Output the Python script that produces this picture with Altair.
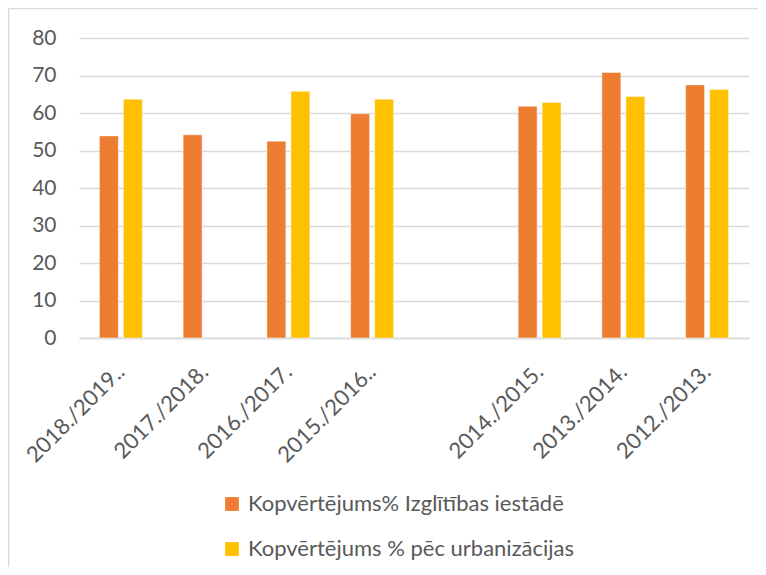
import altair as alt
import pandas as pd

categories = ["2018./2019..", "2017./2018.", "2016./2017.", "2015./2016..", " ",
              "2014./2015.", "2013./2014.", "2012./2013."]
series_names = ["Kopvērtējums% Izglītības iestādē", "Kopvērtējums % pēc urbanizācijas"]
orange_vals = [53.9, 54.2, 52.5, 59.8, None, 61.8, 70.8, 67.5]
yellow_vals = [63.7, None, 65.8, 63.7, None, 62.8, 64.4, 66.3]
colors = ["#ED7D31", "#FFC000"]
y_ticks = [0, 10, 20, 30, 40, 50, 60, 70, 80]

rows = []
for c, o, y in zip(categories, orange_vals, yellow_vals):
    if o is not None:
        rows.append({"cat": c, "series": series_names[0], "value": o})
    if y is not None:
        rows.append({"cat": c, "series": series_names[1], "value": y})
df = pd.DataFrame(rows)

FONT = "Lato"
TXT = "#595959"
GRID = "#D9D9D9"

bars = alt.Chart(df).mark_bar(stroke="white", strokeWidth=0.8, strokeOpacity=0.6).encode(
    x=alt.X("cat:N", sort=categories,
            scale=alt.Scale(domain=categories, paddingInner=0.487, paddingOuter=0.2435),
            axis=alt.Axis(title=None, labelAngle=315, labelAlign="right", labelBaseline="middle",
                          labelPadding=30, ticks=False, domain=True, domainColor=GRID,
                          domainWidth=1.5, labelColor=TXT, labelFontSize=22, labelFont=FONT,
                          grid=False)),
    xOffset=alt.XOffset("series:N", sort=series_names,
                        scale=alt.Scale(domain=series_names, paddingInner=0.21, paddingOuter=0)),
    y=alt.Y("value:Q", scale=alt.Scale(domain=[0, 80], nice=False),
            axis=alt.Axis(title=None, values=y_ticks, grid=True, gridColor=GRID, gridWidth=1.5,
                          domain=False, ticks=False, labelPadding=23, labelColor=TXT,
                          labelFontSize=21, labelFont=FONT)),
    color=alt.Color("series:N", sort=series_names,
                    scale=alt.Scale(domain=series_names, range=colors),
                    legend=alt.Legend(title=None, orient="none", legendX=142, legendY=455,
                                      direction="vertical", symbolType="square", symbolSize=190,
                                      symbolStrokeWidth=0, rowPadding=23, labelFontSize=22,
                                      labelFont=FONT, labelColor=TXT, labelOffset=5,
                                      labelLimit=0)),
)

frame = pd.DataFrame({"k": [0]})
left_border = alt.Chart(frame).mark_rule(color=GRID, strokeWidth=1.5).encode(
    x=alt.value(-70.5), y=alt.value(-29.5), y2=alt.value(529))
top_border = alt.Chart(frame).mark_rule(color=GRID, strokeWidth=1.5).encode(
    x=alt.value(-70.5), x2=alt.value(679), y=alt.value(-29.5))

chart = alt.layer(bars, left_border, top_border).properties(
    width=670, height=300,
    autosize=alt.AutoSizeParams(type="none"),
    padding={"left": 71, "top": 30, "right": 9, "bottom": 229},
).configure_view(stroke=None)

chart.save("out.html", embed_options={"renderer": "svg", "actions": False})
